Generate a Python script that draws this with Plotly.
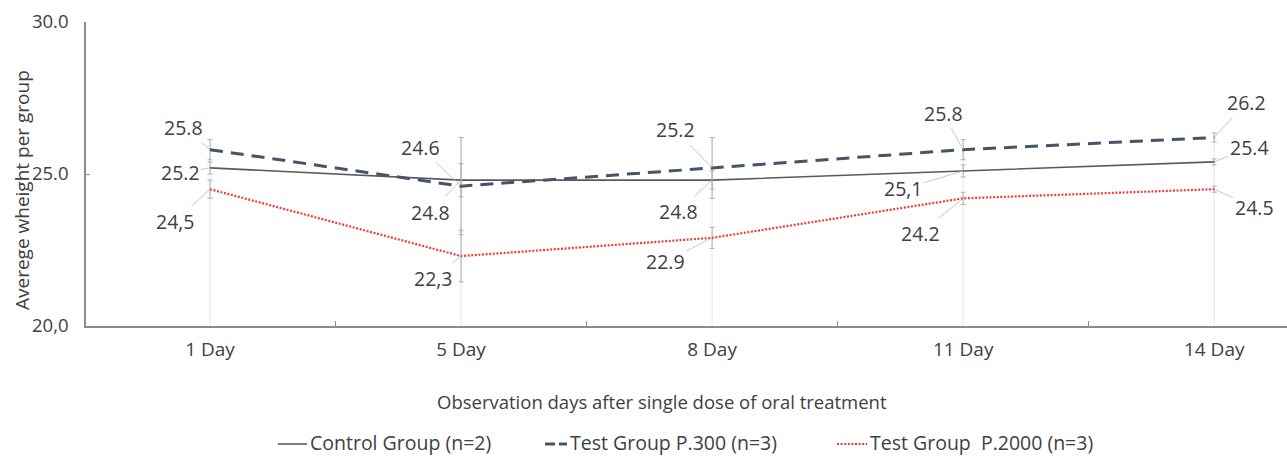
import plotly.graph_objects as go

# Observation days (category axis)
days = ["1 Day", "5 Day", "8 Day", "11 Day", "14 Day"]

# Average body weight per group
control = [25.2, 24.8, 24.8, 25.1, 25.4]
p300 = [25.8, 24.6, 25.2, 25.8, 26.2]
p2000 = [24.5, 22.3, 22.9, 24.2, 24.5]

# Error bar half-widths
control_err = [0.2, 0.55, 0.3, 0.2, 0.1]
p300_err = [0.33, 1.6, 1.0, 0.33, 0.15]
p2000_err = [0.3, 0.85, 0.35, 0.2, 0.1]

# Decimal separators used in the printed data labels
control_sep = [".", ".", ".", ",", "."]
p300_sep = [".", ".", ".", ".", "."]
p2000_sep = [",", ",", ".", ".", "."]

# Label offsets (pixels, text centre relative to the point)
control_off = [(-30, 5), (-31, 32), (-34, 31), (-60, 18), (35, -14)]
p300_off = [(-27, -22), (-41, -39), (-37, -38), (-20, -36), (32, -35)]
p2000_off = [(-35, 32), (-28, 22), (-47, 24), (-43, 35), (40, 18)]

legend_names = ["Control Group (n=2)", "Test Group P.300 (n=3)", "Test Group  P.2000 (n=3)"]

FONT = "Open Sans"
TXT = "#404040"
AXIS = "#8c8c8c"
C_CTRL = "#5a5a5a"
C_300 = "#44546A"
C_2000 = "#ef3b3b"

W, H = 1287, 457
ML, MR, MT, MB = 86, 0, 22, 131
PW, PH = W - ML - MR, H - MT - MB

# category spacing in pixels -> x range
x = list(range(len(days)))
x_lo, x_hi = -0.494, 4.29


def px(xp):
    return (xp - ML) / PW


def py(yp):
    return (H - MB - yp) / PH


fig = go.Figure()

# drop lines from the top of each category down to the axis
drop_x, drop_y = [], []
for i in x:
    top = max(p300[i] + p300_err[i], control[i] + control_err[i])
    drop_x += [i, i, None]
    drop_y += [top, 20, None]
fig.add_trace(go.Scatter(x=drop_x, y=drop_y, mode="lines",
                         line=dict(color="#e6e6e6", width=1),
                         hoverinfo="skip", showlegend=False))


def series(vals, errs, color, width, dash):
    fig.add_trace(go.Scatter(
        x=x, y=vals, mode="lines",
        line=dict(color=color, width=width, dash=dash),
        error_y=dict(type="data", array=errs, visible=True,
                     color="#b0b0b0", thickness=1, width=2.5),
        showlegend=False))


series(control, control_err, C_CTRL, 1.6, "solid")
series(p300, p300_err, C_300, 3, "13px,8px")
series(p2000, p2000_err, C_2000, 2.2, "2px,1.6px")

annotations = []


def labels(vals, seps, offs):
    for i, v in enumerate(vals):
        txt = f"{v:.1f}".replace(".", seps[i])
        annotations.append(dict(
            x=i, y=v, xref="x", yref="y", text=txt,
            showarrow=True, arrowhead=0, arrowwidth=0.8, arrowcolor="#b8b8b8",
            ax=offs[i][0], ay=offs[i][1], standoff=0,
            font=dict(family=FONT, size=19.5, color=TXT)))


labels(p300, p300_sep, p300_off)
labels(control, control_sep, control_off)
labels(p2000, p2000_sep, p2000_off)

# axis titles
annotations.append(dict(x=px(662), y=py(401), xref="paper", yref="paper",
                        text="Observation days after single dose of oral treatment",
                        showarrow=False, xanchor="center", yanchor="middle",
                        font=dict(family=FONT, size=18.5, color=TXT)))
annotations.append(dict(x=px(22), y=py(190), xref="paper", yref="paper",
                        text="Averege wheight per group", textangle=-90,
                        showarrow=False, xanchor="center", yanchor="middle",
                        font=dict(family=FONT, size=19, color=TXT)))

# legend
LY = 442
shapes = []
leg = [
    (278, 307, 308, C_CTRL, 1.6, "solid"),
    (545, 567, 568, C_300, 3, "10px,4px"),
    (837, 867, 868, C_2000, 2.2, "2px,1.6px"),
]
for (x0, x1, tx, col, wd, ds), name in zip(leg, legend_names):
    shapes.append(dict(type="line", xref="paper", yref="paper",
                       x0=px(x0), x1=px(x1), y0=py(LY + 2), y1=py(LY + 2),
                       line=dict(color=col, width=wd, dash=ds)))
    annotations.append(dict(x=px(tx), y=py(LY), xref="paper", yref="paper",
                            text=name, showarrow=False, xanchor="left",
                            yanchor="middle",
                            font=dict(family=FONT, size=19.5, color=TXT)))

fig.update_layout(
    width=W, height=H,
    margin=dict(l=ML, r=MR, t=MT, b=MB, autoexpand=False),
    paper_bgcolor="white", plot_bgcolor="white",
    showlegend=False,
    annotations=annotations, shapes=shapes,
    font=dict(family=FONT, color=TXT),
    xaxis=dict(range=[x_lo, x_hi], tickvals=x, ticktext=days,
               showgrid=False, zeroline=False, ticks="",
               showline=True, linecolor=AXIS, linewidth=1.5,
               ticklabelstandoff=5,
               tickfont=dict(family=FONT, size=19, color=TXT),
               minor=dict(tickvals=[0.5, 1.5, 2.5, 3.5], ticks="inside",
                          ticklen=5, tickcolor=AXIS, tickwidth=1)),
    yaxis=dict(range=[20, 30], tickvals=[20, 25, 30],
               ticktext=["20,0", "25.0", "30.0"],
               showgrid=False, zeroline=False,
               ticks="inside", ticklen=4, tickcolor=AXIS,
               showline=True, linecolor=AXIS, linewidth=1.5,
               ticklabelstandoff=12,
               tickfont=dict(family=FONT, size=18.5, color=TXT)),
)

fig.write_html("out.html")
